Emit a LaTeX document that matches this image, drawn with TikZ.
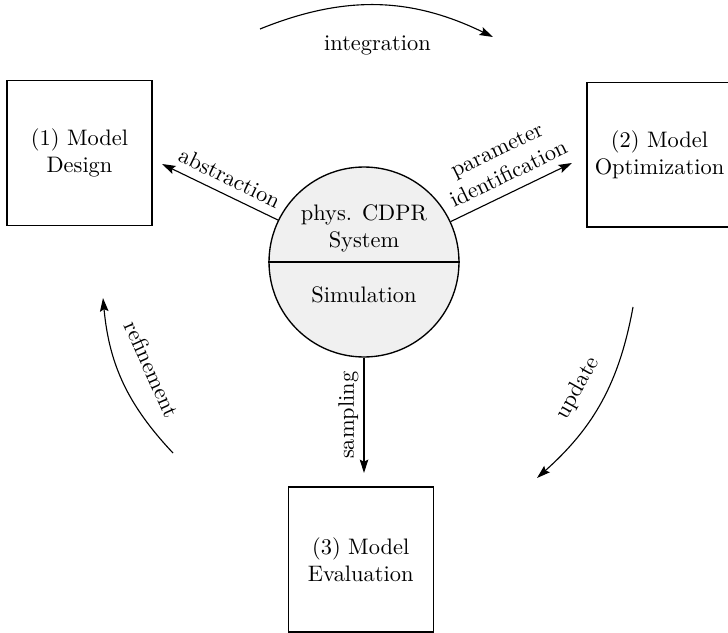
\documentclass[tikz,border=0pt]{standalone}
\usetikzlibrary{arrows.meta}
\begin{document}
\begin{tikzpicture}[x=0.4464pt,y=0.4464pt,
  stagebox/.style={draw, line width=0.6pt, minimum width=64.7pt, minimum height=64.7pt, align=center, inner sep=0pt},
  hub/.style={draw, circle, line width=0.6pt, fill=black!6, minimum size=84.8pt, inner sep=0pt},
  flow/.style={-{Stealth[length=6pt,width=3.8pt,inset=1pt]}, line width=0.5pt}]
\useasboundingbox (0,0) rectangle (728,632);

% the three stages
\node[stagebox] (design) at (79.5,479) {(1) Model\\Design};
\node[stagebox] (optim) at (659.5,477.3) {(2) Model\\Optimization};
\node[stagebox] (eval) at (360.7,72.5) {(3) Model\\Evaluation};

% central split circle
\node[hub] (sys) at (364,370) {};
\draw[line width=0.6pt] (sys.west) -- (sys.east);
\node[align=center] (phys) at (364,404) {phys. CDPR\\System};
\node (sim) at (364,337) {Simulation};

% radial arrows out of the circle
\coordinate (absTip) at (162,468);
\coordinate (parTip) at (572,469);
\coordinate (smpTip) at (364,159);
\draw[flow] (sys.154.6) -- node[pos=0.48, sloped, above=0.5pt] (absLbl) {abstraction} (absTip);
\draw[flow] (sys.25) -- node[pos=0.54, sloped, above=2.5pt, align=center, inner sep=2pt] (parLbl) {parameter\\identification} (parTip);
\draw[flow] (sys.south) -- node[midway, rotate=90, anchor=south, inner sep=2.2pt] (smpLbl) {sampling} (smpTip);

% outer cycle arcs
\coordinate (intA) at (260,603);
\coordinate (intB) at (493,595);
\draw[flow] (intA) to[bend left=24] node[midway, below=10pt] (intLbl) {integration} (intB);
\coordinate (updA) at (633,325);
\coordinate (updB) at (537,154);
\draw[flow] (updA) to[bend left=19] node[midway, sloped, above=4pt] (updLbl) {update} (updB);
\coordinate (refA) at (173,179);
\coordinate (refB) at (103,334);
\draw[flow] (refA) to[bend left=19] node[midway, sloped, above=7pt] (refLbl) {refinement} (refB);
\end{tikzpicture}
\end{document}
